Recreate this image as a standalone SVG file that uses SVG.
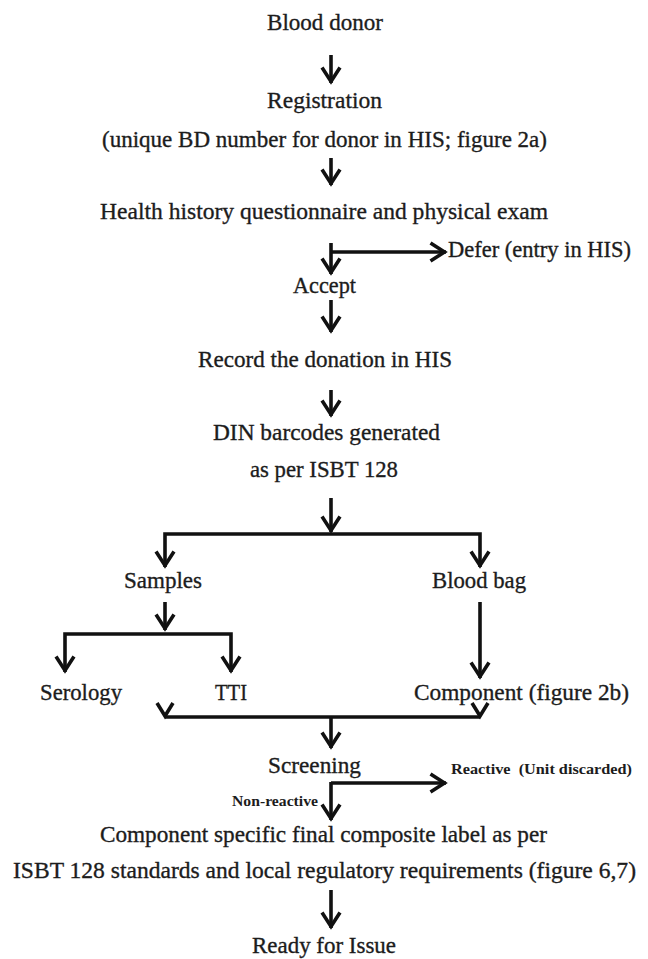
<svg xmlns="http://www.w3.org/2000/svg" width="648" height="959" viewBox="0 0 648 959">
<style>
  text { font-family: "Liberation Serif", "Times New Roman", serif; font-size: 23.5px; fill: #1c1c1c; stroke: #1c1c1c; stroke-width: 0.35px; }
  text.small { font-size: 15.5px; font-weight: bold; white-space: pre; stroke-width: 0; }
  .ln { fill: none; stroke: #111; stroke-width: 3.6; stroke-linejoin: miter; }
</style>
<defs>
  <marker id="ah" markerUnits="userSpaceOnUse" markerWidth="40" markerHeight="40" viewBox="-20 -20 40 40" refX="1.5" refY="0" orient="auto" overflow="visible">
    <path d="M-14,-9 L0,0 L-14,9" fill="none" stroke="#111" stroke-width="3.6"/>
  </marker>
</defs>
<rect width="648" height="959" fill="#fff"/>
<g id="connectors">
  <path class="ln" d="M331,55 L331,83" marker-end="url(#ah)"/>
  <path class="ln" d="M331,158 L331,185" marker-end="url(#ah)"/>
  <path class="ln" d="M331,243 L331,274" marker-end="url(#ah)"/>
  <path class="ln" d="M331,252 L446,252" marker-end="url(#ah)"/>
  <path class="ln" d="M331,300 L331,332" marker-end="url(#ah)"/>
  <path class="ln" d="M331,390 L331,416" marker-end="url(#ah)"/>
  <path class="ln" d="M331,498 L331,532" marker-end="url(#ah)"/>
  <path class="ln" d="M331,534 L165,534 L165,567" marker-end="url(#ah)"/>
  <path class="ln" d="M331,534 L480,534 L480,567" marker-end="url(#ah)"/>
  <path class="ln" d="M165,602 L165,630" marker-end="url(#ah)"/>
  <path class="ln" d="M165,634 L65,634 L65,672" marker-end="url(#ah)"/>
  <path class="ln" d="M165,634 L231,634 L231,672" marker-end="url(#ah)"/>
  <path class="ln" d="M480,602 L480,678" marker-end="url(#ah)"/>
  <path class="ln" d="M157,703 L165,716 L173,703"/>
  <path class="ln" d="M472,703 L480,716 L488,703"/>
  <path class="ln" d="M165,717 L480,717"/>
  <path class="ln" d="M331,717 L331,748" marker-end="url(#ah)"/>
  <path class="ln" d="M331,782 L331,820" marker-end="url(#ah)"/>
  <path class="ln" d="M331,783 L446,783" marker-end="url(#ah)"/>
  <path class="ln" d="M331,890 L331,928" marker-end="url(#ah)"/>
</g>
<g id="blood-donor"><text x="267" y="30" textLength="116" lengthAdjust="spacingAndGlyphs">Blood donor</text></g>
<g id="registration">
  <text x="267" y="108" textLength="115" lengthAdjust="spacingAndGlyphs">Registration</text>
  <text x="102" y="147" textLength="445" lengthAdjust="spacingAndGlyphs">(unique BD number for donor in HIS; figure 2a)</text>
</g>
<g id="health"><text x="100" y="219" textLength="448" lengthAdjust="spacingAndGlyphs">Health history questionnaire and physical exam</text></g>
<g id="defer"><text x="448" y="257" textLength="183" lengthAdjust="spacingAndGlyphs">Defer (entry in HIS)</text></g>
<g id="accept"><text x="293" y="293" textLength="63" lengthAdjust="spacingAndGlyphs">Accept</text></g>
<g id="record"><text x="198" y="367" textLength="254" lengthAdjust="spacingAndGlyphs">Record the donation in HIS</text></g>
<g id="din">
  <text x="213" y="440" textLength="227" lengthAdjust="spacingAndGlyphs">DIN barcodes generated</text>
  <text x="250" y="477" textLength="148" lengthAdjust="spacingAndGlyphs">as per ISBT 128</text>
</g>
<g id="samples"><text x="124" y="588" textLength="78" lengthAdjust="spacingAndGlyphs">Samples</text></g>
<g id="blood-bag"><text x="432" y="588" textLength="94" lengthAdjust="spacingAndGlyphs">Blood bag</text></g>
<g id="serology"><text x="40" y="700" textLength="82" lengthAdjust="spacingAndGlyphs">Serology</text></g>
<g id="tti"><text x="215" y="700" textLength="32" lengthAdjust="spacingAndGlyphs">TTI</text></g>
<g id="component"><text x="414" y="700" textLength="215" lengthAdjust="spacingAndGlyphs">Component (figure 2b)</text></g>
<g id="screening"><text x="268" y="773" textLength="93" lengthAdjust="spacingAndGlyphs">Screening</text></g>
<g id="reactive"><text class="small" x="451" y="774" textLength="181" lengthAdjust="spacingAndGlyphs">Reactive  (Unit discarded)</text></g>
<g id="non-reactive"><text class="small" x="232" y="806" textLength="86" lengthAdjust="spacingAndGlyphs">Non-reactive</text></g>
<g id="final-label">
  <text x="100" y="842" textLength="447" lengthAdjust="spacingAndGlyphs">Component specific final composite label as per</text>
  <text x="13" y="878" textLength="623" lengthAdjust="spacingAndGlyphs">ISBT 128 standards and local regulatory requirements (figure 6,7)</text>
</g>
<g id="ready"><text x="252" y="953" textLength="144" lengthAdjust="spacingAndGlyphs">Ready for Issue</text></g>
</svg>
